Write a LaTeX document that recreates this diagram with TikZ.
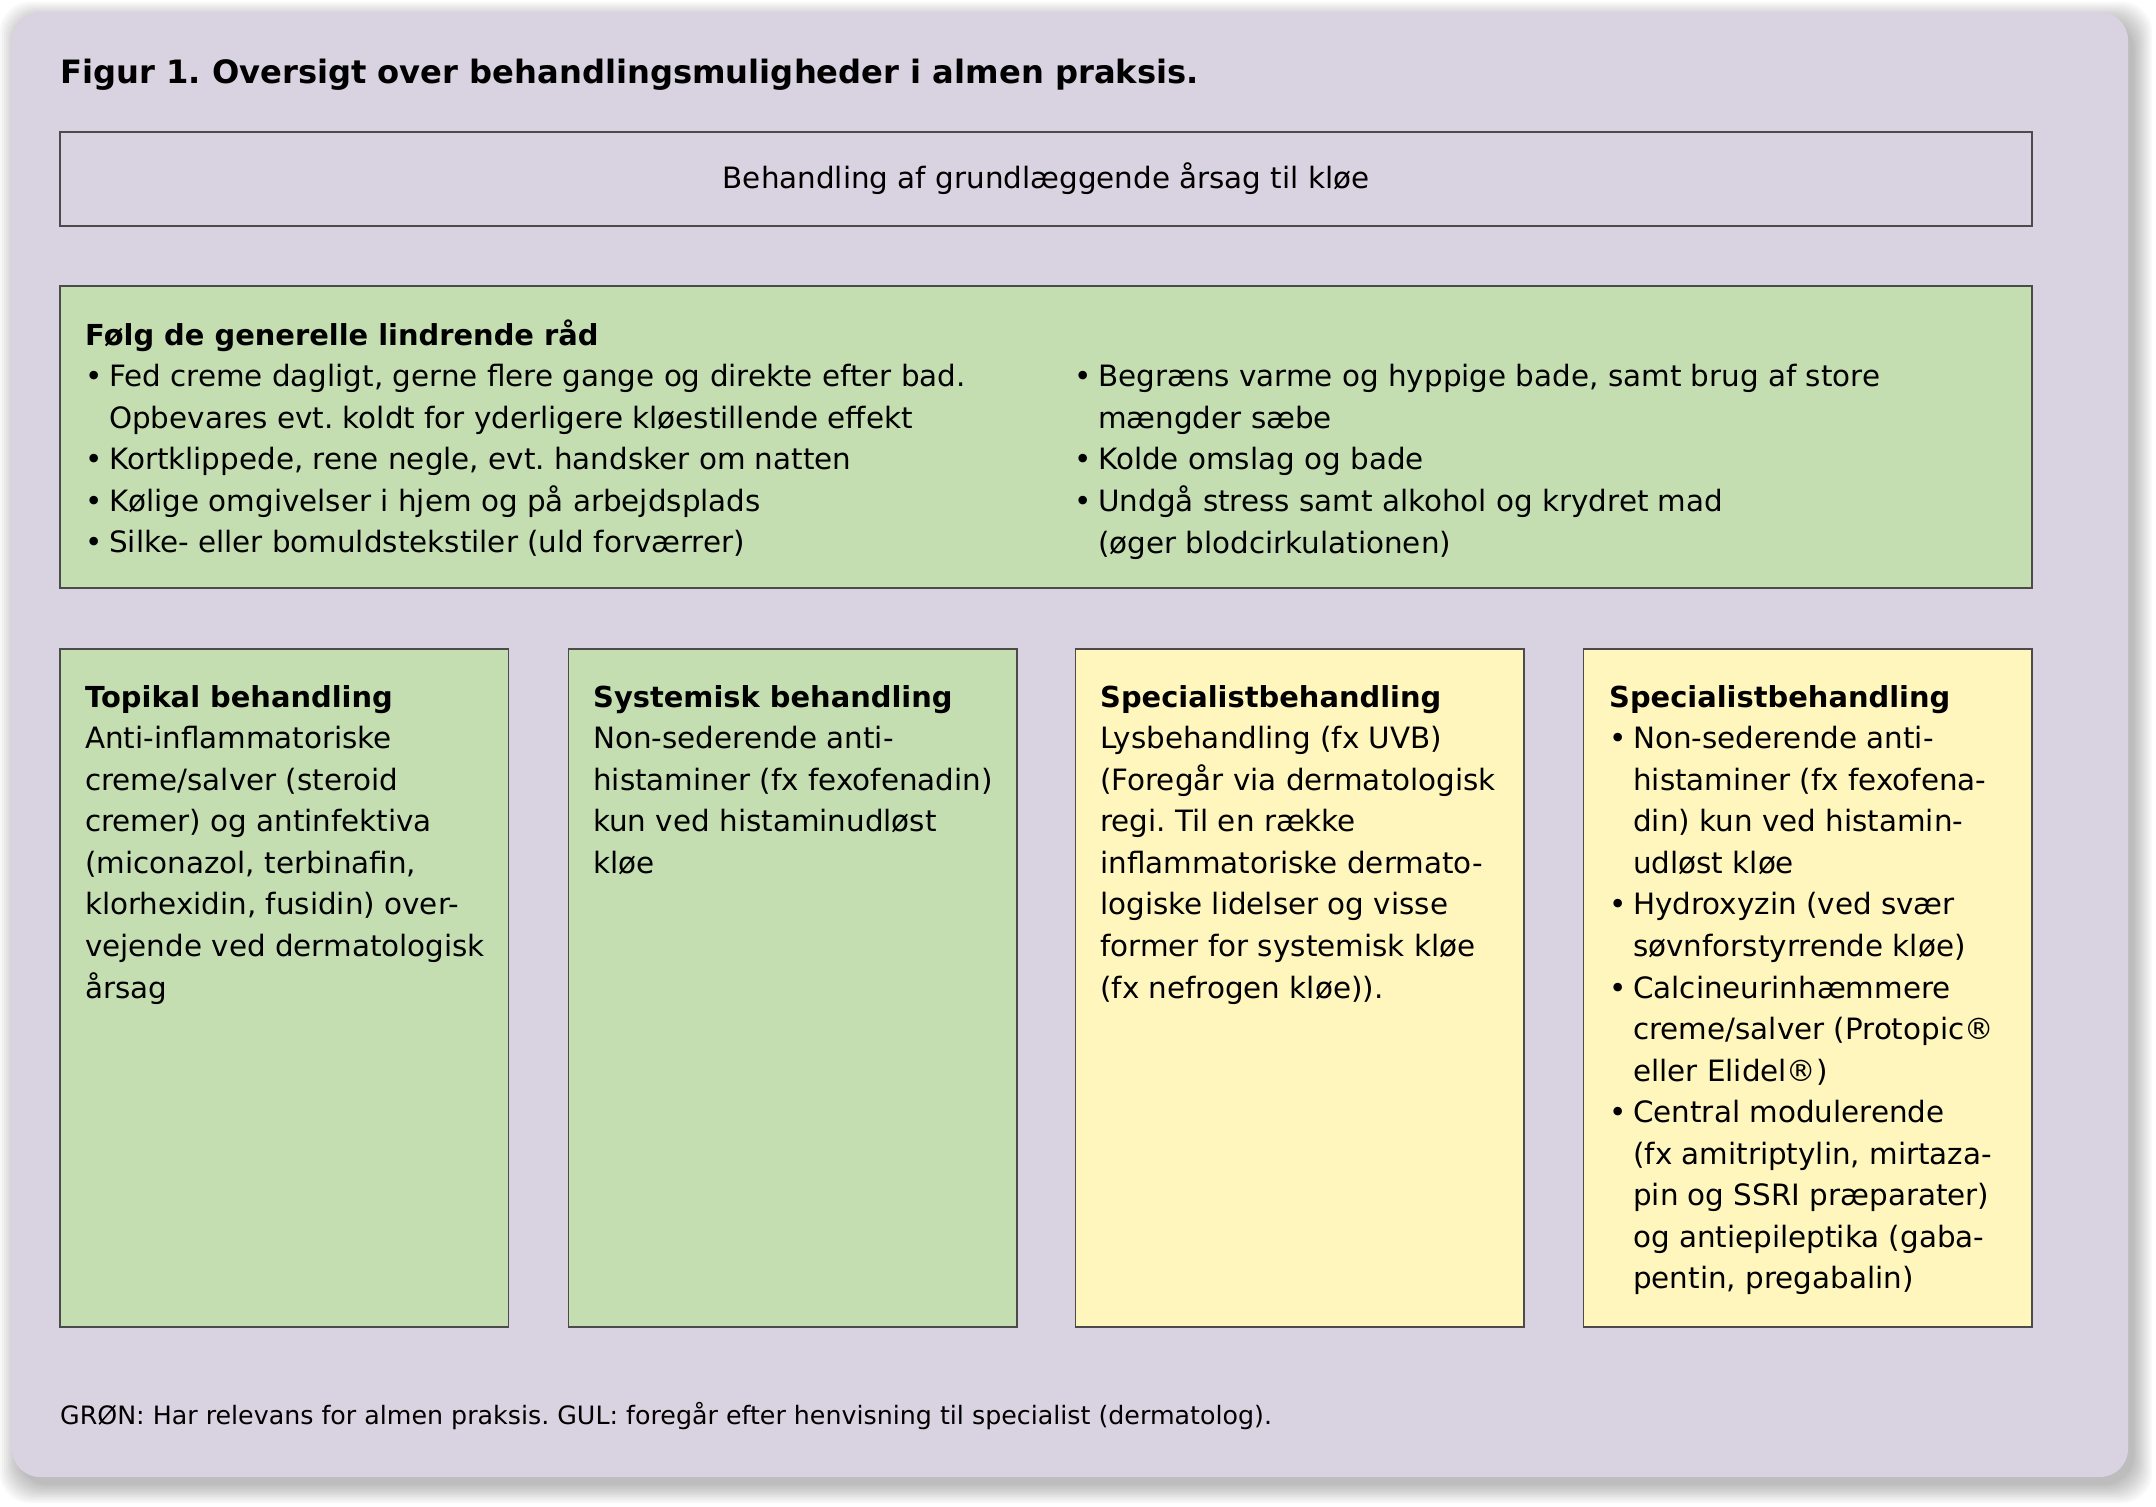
\documentclass[tikz,border=0pt]{standalone}
\usepackage{fontspec}
\setmainfont{DejaVu Sans}
\definecolor{panel}{RGB}{217,210,224}
\definecolor{gbox}{RGB}{196,222,178}
\definecolor{ybox}{RGB}{255,246,189}
\definecolor{bord}{RGB}{75,75,75}
\newcommand\fstrut{\rule{0pt}{28bp}}
\newcommand\bul{\makebox[24bp][l]{•}}
\newcommand\ind{\hspace*{24bp}}
\newcommand\hd[1]{{\fontsize{29}{41.7}\selectfont\bfseries #1}}
\tikzset{
  box/.style={draw=bord, line width=1.6bp, anchor=north west, inner sep=0pt, outer sep=0pt},
  lowbox/.style={box, minimum width=448.5bp, minimum height=678bp},
  txt/.style={anchor=north west, inner sep=0pt, align=left, font=\fontsize{29.5}{41.7}\selectfont},
}
\frenchspacing
\begin{document}
\frenchspacing
\begin{tikzpicture}[x=1bp, y=-1bp]
\useasboundingbox (0,0) rectangle (2156,1507);
\fill[white] (0,0) rectangle (2156,1507);
% soft shadow
\foreach \i in {0,...,9}{
  \fill[black, opacity=0.028, rounded corners=30bp]
    ({12+6-2*\i},{12+8-2*\i}) rectangle ({2128+6+2*\i},{1477+8+2*\i});
}
\fill[panel, rounded corners=28bp] (12,12) rectangle (2128,1477);

\node[anchor=base west, inner sep=0pt, font=\bfseries\fontsize{32.3}{38}\selectfont] (title) at (60,84)
  {Figur 1. Oversigt over behandlingsmuligheder i almen praksis.};

\node[box, minimum width=1972bp, minimum height=94bp] (top) at (60,132) {};
\node[inner sep=0pt, font=\fontsize{29.5}{35}\selectfont] (toptxt) at (top.center) {Behandling af grundlæggende årsag til kløe};

\node[box, fill=gbox, minimum width=1972bp, minimum height=302bp] (gen) at (60,286) {};
\node[txt] (genL) at (85,317) {\fstrut\hd{Følg de generelle lindrende råd}\\
\bul Fed creme dagligt, gerne flere gange og direkte efter bad.\\
\ind Opbevares evt. koldt for yderligere kløestillende effekt\\
\bul Kortklippede, rene negle, evt. handsker om natten\\
\bul Kølige omgivelser i hjem og på arbejdsplads\\
\bul Silke- eller bomuldstekstiler (uld forværrer)};
\node[txt] (genR) at (1074,358.7) {\fstrut\bul Begræns varme og hyppige bade, samt brug af store\\
\ind mængder sæbe\\
\bul Kolde omslag og bade\\
\bul Undgå stress samt alkohol og krydret mad\\
\ind (øger blodcirkulationen)};

\node[lowbox, fill=gbox] (topi) at (60,649) {};
\node[lowbox, fill=gbox] (syst) at (568.5,649) {};
\node[lowbox, fill=ybox] (spec1) at (1075.5,649) {};
\node[lowbox, fill=ybox] (spec2) at (1583.5,649) {};

\node[txt] (topiT) at (85,679) {\fstrut\hd{Topikal behandling}\\
Anti-inflammatoriske\\
creme/salver (steroid\\
cremer) og antinfektiva\\
(miconazol, terbinafin,\\
klorhexidin, fusidin) over-\\
vejende ved dermatologisk\\
årsag};

\node[txt] (systT) at (593,679) {\fstrut\hd{Systemisk behandling}\\
Non-sederende anti-\\
histaminer (fx fexofenadin)\\
kun ved histaminudløst\\
kløe};

\node[txt] (spec1T) at (1100,679) {\fstrut\hd{Specialistbehandling}\\
Lysbehandling (fx UVB)\\
(Foregår via dermatologisk\\
regi. Til en række\\
inflammatoriske dermato-\\
logiske lidelser og visse\\
former for systemisk kløe\\
(fx nefrogen kløe)).};

\node[txt] (spec2T) at (1609,679) {\fstrut\hd{Specialistbehandling}\\
\bul Non-sederende anti-\\
\ind histaminer (fx fexofena-\\
\ind din) kun ved histamin-\\
\ind udløst kløe\\
\bul Hydroxyzin (ved svær\\
\ind søvnforstyrrende kløe)\\
\bul Calcineurinhæmmere\\
\ind creme/salver (Protopic®\\
\ind eller Elidel®)\\
\bul Central modulerende\\
\ind (fx amitriptylin, mirtaza-\\
\ind pin og SSRI præparater)\\
\ind og antiepileptika (gaba-\\
\ind pentin, pregabalin)};

\node[anchor=base west, inner sep=0pt, font=\fontsize{25.4}{30}\selectfont] (note) at (60,1424)
  {GRØN: Har relevans for almen praksis. GUL: foregår efter henvisning til specialist (dermatolog).};
\end{tikzpicture}
\end{document}
